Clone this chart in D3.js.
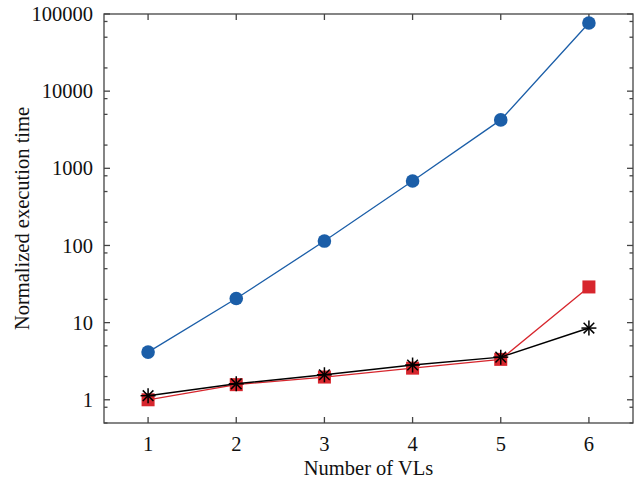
<html>
<head>
<style>
  body { margin: 0; background: #fff; }
  text { font-family: "Liberation Serif", "DejaVu Serif", serif; fill: #111; }
</style>
</head>
<body>
<script src="https://d3js.org/d3.v7.min.js" charset="utf-8"></script>
<script type="text/javascript">

// data
var vls = [1, 2, 3, 4, 5, 6];
var blueVals = [4.15, 20.5, 114, 684, 4240, 76400];
var redVals = [1.0, 1.57, 1.97, 2.57, 3.34, 29];
var blackVals = [1.13, 1.61, 2.11, 2.82, 3.57, 8.5];
var yTickVals = [1, 10, 100, 1000, 10000, 100000];
var minorMult = [2, 5, 8];

var width = 643, height = 485;
var plotL = 104, plotR = 633, plotT = 14, plotB = 423;

var svg = d3.select("body").append("svg")
    .attr("width", width)
    .attr("height", height);

var x = d3.scaleLinear().domain([0.5, 6.5]).range([plotL, plotR]);
var y = d3.scaleLog().domain([0.5, 100000]).range([plotB, plotT]);

// minor ticks (2, 5, 8 of each decade)
var minors = [];
[0.1, 1, 10, 100, 1000, 10000].forEach(function(d) {
    minorMult.forEach(function(m) {
        var v = d * m;
        if (v >= 0.5 && v < 100000) minors.push(v);
    });
});

var axisColor = "#444";
var g = svg.append("g").attr("stroke", axisColor).attr("stroke-width", 1.3);

// frame
g.append("rect")
    .attr("x", plotL).attr("y", plotT)
    .attr("width", plotR - plotL).attr("height", plotB - plotT)
    .attr("fill", "none");

// y ticks, left and right, pointing inward
yTickVals.forEach(function(v) {
    g.append("line").attr("x1", plotL).attr("x2", plotL + 6).attr("y1", y(v)).attr("y2", y(v));
    g.append("line").attr("x1", plotR).attr("x2", plotR - 6).attr("y1", y(v)).attr("y2", y(v));
});
minors.forEach(function(v) {
    g.append("line").attr("x1", plotL).attr("x2", plotL + 3.5).attr("y1", y(v)).attr("y2", y(v));
    g.append("line").attr("x1", plotR).attr("x2", plotR - 3.5).attr("y1", y(v)).attr("y2", y(v));
});

// x ticks, bottom and top
vls.forEach(function(v) {
    g.append("line").attr("x1", x(v)).attr("x2", x(v)).attr("y1", plotB).attr("y2", plotB - 6);
    g.append("line").attr("x1", x(v)).attr("x2", x(v)).attr("y1", plotT).attr("y2", plotT + 6);
});

// tick labels
svg.append("g").selectAll("text")
    .data(yTickVals)
    .enter().append("text")
    .attr("x", plotL - 11)
    .attr("y", function(d) { return y(d); })
    .attr("dy", "0.35em")
    .attr("text-anchor", "end")
    .style("font-size", "20.5px")
    .text(function(d) { return d; });

svg.append("g").selectAll("text")
    .data(vls)
    .enter().append("text")
    .attr("x", function(d) { return x(d); })
    .attr("y", plotB + 28)
    .attr("text-anchor", "middle")
    .style("font-size", "20.5px")
    .text(function(d) { return d; });

// axis titles
svg.append("text")
    .attr("x", (plotL + plotR) / 2)
    .attr("y", 475)
    .attr("text-anchor", "middle")
    .style("font-size", "20.5px")
    .text("Number of VLs");

svg.append("text")
    .attr("transform", "translate(29," + ((plotT + plotB) / 2) + ") rotate(-90)")
    .attr("text-anchor", "middle")
    .style("font-size", "20.5px")
    .text("Normalized execution time");

var line = d3.line()
    .x(function(d, i) { return x(vls[i]); })
    .y(function(d) { return y(d); });

// blue series
var blue = "#1b5ea8";
svg.append("path").datum(blueVals)
    .attr("d", line).attr("fill", "none").attr("stroke", blue).attr("stroke-width", 1.3);
svg.append("g").selectAll("circle")
    .data(blueVals)
    .enter().append("circle")
    .attr("cx", function(d, i) { return x(vls[i]); })
    .attr("cy", function(d) { return y(d); })
    .attr("r", 6.8)
    .attr("fill", blue);

// red series
var red = "#d7262d";
svg.append("path").datum(redVals)
    .attr("d", line).attr("fill", "none").attr("stroke", red).attr("stroke-width", 1.3);
svg.append("g").selectAll("rect")
    .data(redVals)
    .enter().append("rect")
    .attr("x", function(d, i) { return x(vls[i]) - 6.5; })
    .attr("y", function(d) { return y(d) - 6.5; })
    .attr("width", 13).attr("height", 13)
    .attr("fill", red);

// black series
svg.append("path").datum(blackVals)
    .attr("d", line).attr("fill", "none").attr("stroke", "#000").attr("stroke-width", 1.5);
var star = svg.append("g").selectAll("g")
    .data(blackVals)
    .enter().append("g")
    .attr("transform", function(d, i) { return "translate(" + x(vls[i]) + "," + y(d) + ")"; });
[0, 45, 90, 135].forEach(function(a) {
    star.append("line")
        .attr("x1", -7.5).attr("x2", 7.5).attr("y1", 0).attr("y2", 0)
        .attr("transform", "rotate(" + a + ")")
        .attr("stroke", "#000").attr("stroke-width", 1.5);
});

</script>
</body>
</html>
